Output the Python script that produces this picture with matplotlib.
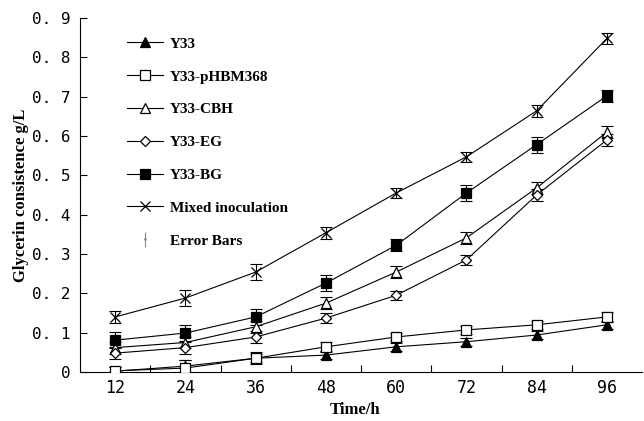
import matplotlib
matplotlib.use("Agg")
import matplotlib.pyplot as plt
from matplotlib.ticker import FixedLocator, FuncFormatter

times = ["12", "24", "36", "48", "60", "72", "84", "96"]
y33 = [0.002, 0.015, 0.035, 0.043, 0.064, 0.077, 0.094, 0.12]
phbm = [0.003, 0.01, 0.035, 0.064, 0.089, 0.107, 0.12, 0.14]
cbh = [0.062, 0.075, 0.115, 0.175, 0.254, 0.341, 0.468, 0.61]
eg = [0.048, 0.062, 0.089, 0.137, 0.195, 0.285, 0.45, 0.59]
bg = [0.081, 0.099, 0.14, 0.226, 0.322, 0.455, 0.578, 0.702]
mixed = [0.14, 0.188, 0.254, 0.354, 0.455, 0.547, 0.664, 0.848]
err_y33 = [0.01, 0.015, 0.01, 0.01, 0.01, 0.01, 0.01, 0.01]
err_phbm = [0.01, 0.02, 0.015, 0.012, 0.01, 0.01, 0.01, 0.012]
err_cbh = [0.015, 0.015, 0.015, 0.015, 0.015, 0.015, 0.015, 0.015]
err_eg = [0.015, 0.015, 0.015, 0.012, 0.012, 0.012, 0.015, 0.015]
err_bg = [0.02, 0.02, 0.02, 0.02, 0.015, 0.02, 0.02, 0.015]
err_mixed = [0.015, 0.02, 0.02, 0.015, 0.012, 0.012, 0.015, 0.015]

series = [
    ("Y33", y33, err_y33, dict(marker="^", mfc="black", mec="black")),
    ("Y33-pHBM368", phbm, err_phbm, dict(marker="s", mfc="white", mec="black")),
    ("Y33-CBH", cbh, err_cbh, dict(marker="^", mfc="white", mec="black")),
    ("Y33-EG", eg, err_eg, dict(marker="D", mfc="white", mec="black", ms=5)),
    ("Y33-BG", bg, err_bg, dict(marker="s", mfc="black", mec="black")),
    ("Mixed inoculation", mixed, err_mixed, dict(marker="x", mfc="black", mec="black")),
]

fig = plt.figure(figsize=(6.44, 4.21), dpi=100)
ax = fig.add_axes([80/644, 49/421, 562/644, 354/421])
x = list(range(len(times)))

handles = []
for name, vals, err, st in series:
    ms = st.pop("ms", 7)
    ax.errorbar(x, vals, yerr=err, fmt="none", ecolor="black", elinewidth=0.8,
                capsize=4, capthick=0.8, zorder=2)
    h, = ax.plot(x, vals, color="black", lw=0.8, ms=ms, mew=0.9, label=name,
                 zorder=3, **st)
    handles.append(h)

eb = ax.errorbar([], [], yerr=[], fmt=".", color="#888888", ms=2,
                 capsize=4, elinewidth=0.8, label="Error Bars")
handles.append(eb)

ax.set_xlim(-0.5, len(times) - 0.5)
ax.set_ylim(0, 0.9)
ax.spines["top"].set_visible(False)
ax.spines["right"].set_visible(False)

ax.xaxis.set_major_locator(FixedLocator([i + 0.5 for i in range(len(times) - 1)]))
ax.xaxis.set_minor_locator(FixedLocator(x))
ax.xaxis.set_major_formatter(FuncFormatter(lambda v, p: ""))
ax.xaxis.set_minor_formatter(FuncFormatter(lambda v, p: times[int(round(v))]))
ax.tick_params(axis="x", which="major", direction="in", length=5)
ax.tick_params(axis="x", which="minor", length=0, pad=5, labelsize=12)

yt = [i / 10 for i in range(10)]
ax.set_yticks(yt)
ax.set_yticklabels(["0" if v == 0 else "0. %d" % round(v * 10) for v in yt])
ax.tick_params(axis="y", direction="in", length=5, labelsize=11.5, pad=7)
for lab in ax.get_xticklabels(minor=True) + ax.get_yticklabels():
    lab.set_family("DejaVu Sans Mono")

ax.set_xlabel("Time/h", family="Liberation Serif", fontweight="bold", fontsize=12)
ax.xaxis.set_label_coords(0.49, -0.085)
ax.set_ylabel("Glycerin consistence g/L", family="Liberation Serif", fontweight="bold",
              fontsize=12)
ax.yaxis.set_label_coords(-0.09, 0.5)

leg = ax.legend(handles=handles, loc="upper left", bbox_to_anchor=(0.06, 0.985),
                frameon=False, handlelength=2.3, labelspacing=1.25, handletextpad=0.5,
                prop=dict(family="Liberation Serif", weight="bold", size=11))

fig.savefig("out.png", dpi=100)
